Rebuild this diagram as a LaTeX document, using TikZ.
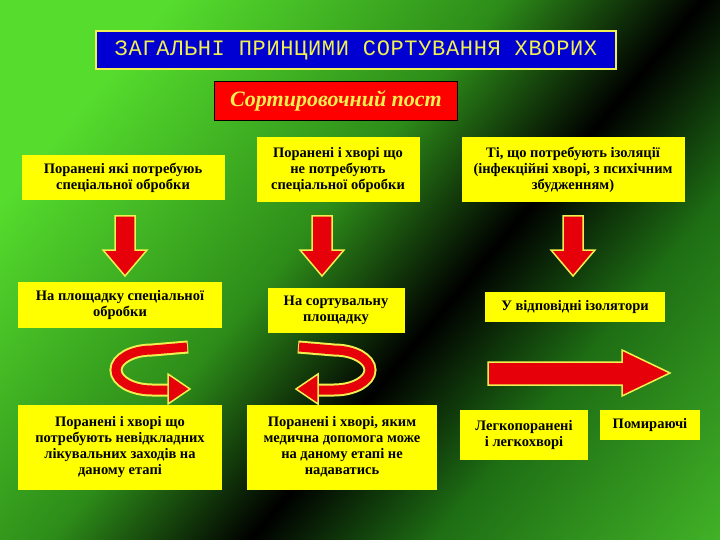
\documentclass[tikz,border=0pt]{standalone}
\usepackage{fontspec}
\setmainfont{Liberation Serif}
\newfontfamily\titlefont[LetterSpace=3]{Liberation Mono}
\definecolor{ylw}{RGB}{255,255,0}
\definecolor{ttl}{RGB}{240,240,80}
\definecolor{arr}{RGB}{230,0,10}
\definecolor{blu}{RGB}{0,0,210}
\definecolor{gA}{RGB}{85,220,45}
\definecolor{gB}{RGB}{45,140,25}
\definecolor{gC}{RGB}{30,110,20}
\definecolor{gD}{RGB}{95,235,55}
\pgfdeclarehorizontalshading{bgsh}{100bp}{color(0bp)=(gA); color(25bp)=(gA); color(45bp)=(gB); color(57bp)=(black); color(68bp)=(gC); color(100bp)=(gD)}
\tikzset{
  ybox/.style={fill=ylw, font=\bfseries\fontsize{14.5}{16}\selectfont, align=center, inner sep=2pt},
  dnarrow/.style={fill=arr, draw=ttl, line width=1.5pt, line join=miter},
}
\begin{document}
\begin{tikzpicture}[x=1pt,y=-1pt]
\useasboundingbox (0,0) rectangle (720,540);
\shade[shading=bgsh, shading angle=-40] (0,0) rectangle (720,540);
% title
\node[draw=ttl, line width=2.5pt, fill=blu, text=ttl, minimum width=520, minimum height=38, font=\titlefont\fontsize{22}{24}\selectfont] (title) at (356,50) {ЗАГАЛЬНІ ПРИНЦИМИ СОРТУВАННЯ ХВОРИХ};
\node[draw=black, line width=1.5pt, fill=red, text=ttl, minimum width=243, minimum height=39, font=\bfseries\itshape\fontsize{22}{24}\selectfont] (post) at (336,101) {Сортировочний пост};
% row 1
\node[ybox, minimum width=203, minimum height=45] (a) at (123,178) {Поранені які потребуюь\\спеціальної обробки};
\node[ybox, minimum width=163, minimum height=65] (b) at (338,170) {Поранені і хворі що\\не потребують\\спеціальної обробки};
\node[ybox, minimum width=223, minimum height=65] (c) at (573,170) {Ті, що потребують ізоляції\\(інфекційні хворі, з психічним\\збудженням)};
% row 2
\node[ybox, minimum width=204, minimum height=46] (d) at (120,305) {На площадку спеціальної\\обробки};
\node[ybox, minimum width=137, minimum height=45] (e) at (336,310) {На сортувальну\\площадку};
\node[ybox, minimum width=180, minimum height=30] (f) at (575,307) {У відповідні ізолятори};
% row 3
\node[ybox, minimum width=204, minimum height=85] (g) at (120,447) {Поранені і хворі що\\потребують невідкладних\\лікувальних заходів на\\даному етапі};
\node[ybox, minimum width=190, minimum height=85] (h) at (342,447) {Поранені і хворі, яким\\медична допомога може\\на даному етапі не\\надаватись};
\node[ybox, minimum width=128, minimum height=50] (i) at (524,435) {Легкопоранені\\і легкохворі};
\node[ybox, minimum width=100, minimum height=30] (j) at (650,425) {Помираючі};
% down arrows
\foreach \cx in {125,322,573}{
  \draw[dnarrow] (\cx-10,216) -- (\cx+10,216) -- (\cx+10,250) -- (\cx+22,250) -- (\cx,276) -- (\cx-22,250) -- (\cx-10,250) -- cycle;
}
% right arrow
\draw[dnarrow] (488,362) -- (622,362) -- (622,350) -- (670,373) -- (622,396) -- (622,385) -- (488,385) -- cycle;
% curved arrows
\draw[ttl, line width=13pt] (188,347) -- (152,350) arc(270:90:36 and 20) -- (172,390);
\draw[arr, line width=9pt] (187,347) -- (152,350) arc(270:90:36 and 20) -- (174,390);
\draw[dnarrow] (168,374) -- (190,389) -- (168,404) -- cycle;
\draw[ttl, line width=13pt] (298,347) -- (334,350) arc(270:450:36 and 20) -- (314,390);
\draw[arr, line width=9pt] (299,347) -- (334,350) arc(270:450:36 and 20) -- (312,390);
\draw[dnarrow] (318,374) -- (296,389) -- (318,404) -- cycle;
\end{tikzpicture}
\end{document}
